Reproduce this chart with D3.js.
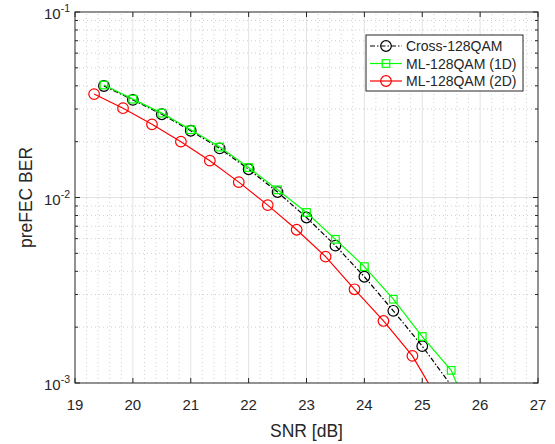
<!DOCTYPE html>
<html>
<head>
<meta charset="utf-8">
<script src="https://cdn.jsdelivr.net/npm/d3@7"></script>
<style>
  body { margin: 0; background: #fff; }
  text { font-family: "Liberation Sans", Arial, sans-serif; fill: #262626; }
</style>
</head>
<body>
<div id="chart"></div>
<script>
// values
const snrCross = [19.5, 20, 20.5, 21, 21.5, 22, 22.5, 23, 23.5, 24, 24.5, 25, 25.5];
const berCross = [0.0399, 0.0336, 0.0281, 0.0229, 0.0184, 0.0142, 0.0107, 0.0078, 0.0055, 0.00374, 0.00245, 0.00158, 0.00097];

const snr1D = [19.5, 20, 20.5, 21, 21.5, 22, 22.5, 23, 23.5, 24, 24.5, 25, 25.5, 26];
const ber1D = [0.0404, 0.0339, 0.0285, 0.0232, 0.0187, 0.0145, 0.0110, 0.0083, 0.00595, 0.00424, 0.00283, 0.00178, 0.00117, 0.0005];

const snr2D = [19.33, 19.83, 20.33, 20.83, 21.33, 21.83, 22.33, 22.83, 23.33, 23.83, 24.33, 24.83, 25.33];
const ber2D = [0.0361, 0.0303, 0.0248, 0.0200, 0.0158, 0.0121, 0.0091, 0.0067, 0.0048, 0.0032, 0.00216, 0.0014, 0.00076];

const xTicks = [19, 20, 21, 22, 23, 24, 25, 26, 27];
const yTicks = [1e-3, 1e-2, 1e-1];
const yExps = ["-3", "-2", "-1"];

const seriesNames = ["Cross-128QAM", "ML-128QAM (1D)", "ML-128QAM (2D)"];

const width = 555, height = 444;
const margin = {left: 75, right: 17, top: 12, bottom: 61};

const svg = d3.select("#chart").append("svg")
    .attr("width", width)
    .attr("height", height);

const x = d3.scaleLinear().domain([19, 27]).range([margin.left, width - margin.right]);
const y = d3.scaleLog().domain([1e-3, 1e-1]).range([height - margin.bottom, margin.top]);

const x0 = x.range()[0], x1 = x.range()[1];
const y0 = y.range()[0], y1 = y.range()[1];

svg.append("rect")
    .attr("x", x0).attr("y", y1)
    .attr("width", x1 - x0).attr("height", y0 - y1)
    .attr("fill", "#fff");

// minor grid (dotted)
const xMinor = d3.range(19, 27.001, 0.2).filter(v => Math.abs(v - Math.round(v)) > 0.01);
svg.append("g").selectAll("line")
    .data(xMinor).enter().append("line")
    .attr("x1", d => x(d)).attr("x2", d => x(d))
    .attr("y1", y0).attr("y2", y1)
    .attr("stroke", "#d0d0d0").attr("stroke-width", 1)
    .attr("stroke-dasharray", "1,3");

const yMinor = [];
[1e-3, 1e-2].forEach(dec => { for (let k = 2; k <= 9; k++) yMinor.push(dec * k); });
svg.append("g").selectAll("line")
    .data(yMinor).enter().append("line")
    .attr("x1", x0).attr("x2", x1)
    .attr("y1", d => y(d)).attr("y2", d => y(d))
    .attr("stroke", "#d0d0d0").attr("stroke-width", 1)
    .attr("stroke-dasharray", "1,3");

// major grid
svg.append("g").selectAll("line")
    .data(xTicks.slice(1, -1)).enter().append("line")
    .attr("x1", d => x(d)).attr("x2", d => x(d))
    .attr("y1", y0).attr("y2", y1)
    .attr("stroke", "#e3e3e3").attr("stroke-width", 1);
svg.append("g").selectAll("line")
    .data(yTicks.slice(1, -1)).enter().append("line")
    .attr("x1", x0).attr("x2", x1)
    .attr("y1", d => y(d)).attr("y2", d => y(d))
    .attr("stroke", "#e3e3e3").attr("stroke-width", 1);

// data
svg.append("clipPath").attr("id", "plotclip")
    .append("rect").attr("x", x0).attr("y", y1).attr("width", x1 - x0).attr("height", y0 - y1);

const plot = svg.append("g").attr("clip-path", "url(#plotclip)");

const series = [
    {xs: snrCross, ys: berCross, color: "#000000", dash: "5,2,1.5,2", marker: "circle"},
    {xs: snr1D, ys: ber1D, color: "#00ff00", dash: null, marker: "square"},
    {xs: snr2D, ys: ber2D, color: "#ff0000", dash: null, marker: "circle"}
];

const line = d3.line().x(d => x(d[0])).y(d => y(d[1]));

function drawMarker(g, type, color, cx, cy) {
    if (type === "circle") {
        g.append("circle").attr("cx", cx).attr("cy", cy).attr("r", 5.3)
            .attr("fill", "none").attr("stroke", color).attr("stroke-width", 1.2);
    } else {
        g.append("rect").attr("x", cx - 3.8).attr("y", cy - 3.8)
            .attr("width", 7.6).attr("height", 7.6)
            .attr("fill", "none").attr("stroke", color).attr("stroke-width", 1.2);
    }
}

series.forEach(s => {
    const pts = s.xs.map((v, i) => [v, s.ys[i]]);
    plot.append("path")
        .datum(pts)
        .attr("d", line)
        .attr("fill", "none")
        .attr("stroke", s.color)
        .attr("stroke-width", 1.2)
        .attr("stroke-dasharray", s.dash);
    pts.forEach(p => {
        if (p[1] >= 1e-3) drawMarker(plot, s.marker, s.color, x(p[0]), y(p[1]));
    });
});

// axes box
svg.append("rect")
    .attr("x", x0).attr("y", y1)
    .attr("width", x1 - x0).attr("height", y0 - y1)
    .attr("fill", "none").attr("stroke", "#262626").attr("stroke-width", 1);

// ticks
const tickG = svg.append("g").attr("stroke", "#262626").attr("stroke-width", 1);
xTicks.forEach(t => {
    tickG.append("line").attr("x1", x(t)).attr("x2", x(t)).attr("y1", y0).attr("y2", y0 - 5);
    tickG.append("line").attr("x1", x(t)).attr("x2", x(t)).attr("y1", y1).attr("y2", y1 + 5);
});
yTicks.forEach(t => {
    tickG.append("line").attr("x1", x0).attr("x2", x0 + 5).attr("y1", y(t)).attr("y2", y(t));
    tickG.append("line").attr("x1", x1).attr("x2", x1 - 5).attr("y1", y(t)).attr("y2", y(t));
});
yMinor.forEach(t => {
    tickG.append("line").attr("x1", x0).attr("x2", x0 + 3).attr("y1", y(t)).attr("y2", y(t));
    tickG.append("line").attr("x1", x1).attr("x2", x1 - 3).attr("y1", y(t)).attr("y2", y(t));
});

// tick labels
svg.append("g").selectAll("text")
    .data(xTicks).enter().append("text")
    .attr("x", d => x(d)).attr("y", y0 + 27)
    .attr("text-anchor", "middle")
    .attr("font-size", 15)
    .text(d => d);

yTicks.forEach((t, i) => {
    const txt = svg.append("text")
        .attr("x", x0 - 5).attr("y", y(t) + 7)
        .attr("text-anchor", "end")
        .attr("font-size", 15);
    txt.append("tspan").text("10");
    txt.append("tspan").attr("dy", -7).attr("font-size", 10.5).text(yExps[i]);
});

// axis labels
svg.append("text")
    .attr("x", (x0 + x1) / 2).attr("y", 437)
    .attr("text-anchor", "middle")
    .attr("font-size", 17.5)
    .text("SNR [dB]");

svg.append("text")
    .attr("transform", `translate(32,${(y0 + y1) / 2}) rotate(-90)`)
    .attr("text-anchor", "middle")
    .attr("font-size", 17.5)
    .text("preFEC BER");

// legend
const lg = svg.append("g").attr("transform", "translate(366,35)");
lg.append("rect").attr("width", 157).attr("height", 56)
    .attr("fill", "#fff").attr("stroke", "#262626").attr("stroke-width", 1);
series.forEach((s, i) => {
    const ly = 11 + i * 17.5;
    lg.append("line").attr("x1", 4).attr("x2", 36).attr("y1", ly).attr("y2", ly)
        .attr("stroke", s.color).attr("stroke-width", 1.2)
        .attr("stroke-dasharray", s.dash);
    drawMarker(lg, s.marker, s.color, 20, ly);
    lg.append("text").attr("x", 40).attr("y", ly + 5)
        .attr("font-size", 14)
        .text(seriesNames[i]);
});
</script>
</body>
</html>
